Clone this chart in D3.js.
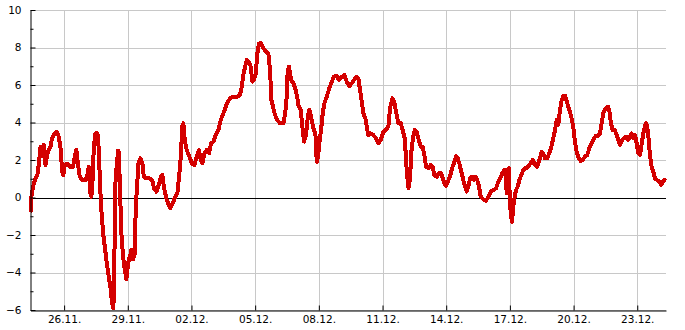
<!DOCTYPE html>
<html lang="en">
<head>
<meta charset="UTF-8">
<title>Temperature</title>
<script src="https://d3js.org/d3.v7.min.js"></script>
<style>
    body { margin: 0; background: #fff; }
    svg { display: block; }
    .axis text { font-family: "DejaVu Sans", sans-serif; font-size: 10.5px; fill: #000; }
    .axis path, .axis line { stroke: #000; }
    .grid line { stroke: #c8c8c8; stroke-width: 1; }
</style>
</head>
<body>
<svg id="chart" width="685" height="330"></svg>
<script>
// time range of the x axis
const xStart = "11-24 10:00";
const xEnd = "12-24 08:30";

// labelled date ticks
const xTicks = ["11-26 00:00", "11-29 00:00", "12-02 00:00", "12-05 00:00", "12-08 00:00",
                "12-11 00:00", "12-14 00:00", "12-17 00:00", "12-20 00:00", "12-23 00:00"];

const yTicks = [-6, -4, -2, 0, 2, 4, 6, 8, 10];
const yMinorTicks = [-5, -3, -1, 1, 3, 5, 7, 9];

// readings: [time, value]
const readings = [
    ["11-24 10:00", -0.8], ["11-24 11:00", 0.05], ["11-24 13:00", 0.58], ["11-24 14:55", 0.93], ["11-24 17:50", 1.2],
    ["11-24 19:45", 1.9], ["11-24 21:15", 2.7], ["11-24 23:10", 2.2],
    ["11-25 01:05", 2.8], ["11-25 02:50", 1.73], ["11-25 04:45", 2.27], ["11-25 06:40", 2.53], ["11-25 08:30", 2.7],
    ["11-25 10:25", 3.16], ["11-25 13:30", 3.42], ["11-25 15:45", 3.5], ["11-25 18:00", 3.24], ["11-25 20:15", 2.53],
    ["11-25 21:45", 1.38], ["11-25 23:10", 1.2],
    ["11-26 00:45", 1.73], ["11-26 03:45", 1.8], ["11-26 06:25", 1.64], ["11-26 10:10", 1.64], ["11-26 12:05", 2.18],
    ["11-26 13:55", 2.53], ["11-26 15:50", 1.73], ["11-26 17:45", 1.1], ["11-26 20:20", 0.93],
    ["11-27 00:05", 0.93], ["11-27 02:20", 1.2], ["11-27 03:55", 1.64], ["11-27 05:25", 0.24], ["11-27 06:50", 0.04],
    ["11-27 08:00", 0.75], ["11-27 09:35", 2.7], ["11-27 11:25", 3.42], ["11-27 13:40", 3.42], ["11-27 15:15", 2.53],
    ["11-27 16:40", 0.58], ["11-27 18:10", -0.67], ["11-27 20:05", -1.91], ["11-27 22:00", -2.62],
    ["11-28 00:15", -3.5], ["11-28 02:30", -4.22], ["11-28 04:45", -4.93], ["11-28 06:15", -5.64], ["11-28 07:45", -5.9],
    ["11-28 08:50", -3.33], ["11-28 10:00", 0.76], ["11-28 11:05", 1.47], ["11-28 13:00", 2.5], ["11-28 13:50", 2.4],
    ["11-28 16:45", -1.9], ["11-28 18:40", -3.16], ["11-28 20:35", -3.87], ["11-28 22:25", -4.35],
    ["11-29 00:20", -3.5], ["11-29 02:15", -3.16], ["11-29 04:05", -2.8], ["11-29 06:00", -3.3], ["11-29 07:55", -3.0],
    ["11-29 09:00", -0.49], ["11-29 10:30", 0.58], ["11-29 12:00", 1.82], ["11-29 14:15", 2.09], ["11-29 16:30", 1.82],
    ["11-29 18:05", 1.11], ["11-29 21:00", 1.02],
    ["11-30 00:50", 1.02], ["11-30 03:30", 0.93], ["11-30 05:45", 0.49], ["11-30 08:20", 0.31], ["11-30 11:00", 0.67],
    ["11-30 13:20", 1.11], ["11-30 15:05", 1.2], ["11-30 17:00", 0.5], ["11-30 20:05", -0.13], ["11-30 23:50", -0.58],
    ["12-01 02:50", -0.31], ["12-01 05:30", 0.04], ["12-01 08:05", 0.22], ["12-01 10:20", 1.29], ["12-01 12:15", 2.36],
    ["12-01 13:25", 3.78], ["12-01 14:50", 3.96], ["12-01 16:25", 3.07], ["12-01 18:40", 2.53], ["12-01 21:40", 2.18],
    ["12-02 00:20", 1.82], ["12-02 03:15", 1.73], ["12-02 06:00", 2.18], ["12-02 08:35", 2.53], ["12-02 10:30", 2.0],
    ["12-02 12:20", 1.82], ["12-02 14:35", 2.36], ["12-02 17:15", 2.53], ["12-02 19:55", 2.36], ["12-02 22:10", 2.89],
    ["12-03 00:45", 2.98], ["12-03 03:30", 3.33], ["12-03 06:25", 3.6], ["12-03 09:05", 4.13], ["12-03 12:05", 4.49],
    ["12-03 14:45", 4.84], ["12-03 17:00", 5.11], ["12-03 19:40", 5.29], ["12-03 23:20", 5.38],
    ["12-04 03:55", 5.38], ["12-04 06:55", 5.47], ["12-04 08:50", 5.91], ["12-04 10:40", 6.53], ["12-04 12:35", 6.98],
    ["12-04 14:30", 7.33], ["12-04 16:45", 7.24], ["12-04 19:00", 6.98], ["12-04 20:50", 6.18], ["12-04 22:45", 6.27],
    ["12-05 00:40", 6.62], ["12-05 02:30", 7.69], ["12-05 04:25", 8.22], ["12-05 06:40", 8.22], ["12-05 09:15", 7.96],
    ["12-05 12:20", 7.78], ["12-05 14:55", 7.69], ["12-05 16:50", 6.8], ["12-05 18:20", 5.2], ["12-05 20:35", 4.76],
    ["12-05 22:30", 4.4],
    ["12-06 01:05", 4.13], ["12-06 04:10", 3.96], ["12-06 07:55", 3.96], ["12-06 09:50", 4.49], ["12-06 11:15", 5.02],
    ["12-06 12:50", 6.8], ["12-06 14:20", 6.98], ["12-06 16:35", 6.27], ["12-06 19:10", 6.09], ["12-06 21:55", 5.73],
    ["12-07 00:10", 5.2], ["12-07 00:50", 4.93], ["12-07 03:35", 4.67], ["12-07 05:20", 3.78], ["12-07 07:15", 2.98],
    ["12-07 09:30", 3.3], ["12-07 11:30", 4.31], ["12-07 13:15", 4.67], ["12-07 15:10", 4.31], ["12-07 17:45", 3.69],
    ["12-07 20:05", 3.42], ["12-07 21:40", 1.9], ["12-07 23:05", 2.2],
    ["12-08 00:35", 2.9], ["12-08 02:30", 3.6], ["12-08 04:25", 4.49], ["12-08 06:15", 5.02], ["12-08 08:55", 5.38],
    ["12-08 11:50", 5.82], ["12-08 14:35", 6.18], ["12-08 17:10", 6.44], ["12-08 20:15", 6.49], ["12-08 22:50", 6.27],
    ["12-09 01:55", 6.44], ["12-09 04:50", 6.53], ["12-09 07:30", 6.18], ["12-09 10:30", 5.95], ["12-09 13:10", 6.09],
    ["12-09 15:50", 6.27], ["12-09 18:05", 6.44], ["12-09 20:40", 6.36], ["12-09 22:35", 5.73],
    ["12-10 00:30", 5.11], ["12-10 02:20", 4.49], ["12-10 04:35", 4.22], ["12-10 06:10", 3.78], ["12-10 07:55", 3.33],
    ["12-10 10:40", 3.42], ["12-10 13:35", 3.33], ["12-10 16:40", 3.16], ["12-10 19:15", 2.89], ["12-10 22:00", 3.07],
    ["12-11 00:55", 3.51], ["12-11 03:35", 3.6], ["12-11 06:35", 3.78], ["12-11 08:30", 4.76], ["12-11 11:05", 5.29],
    ["12-11 13:20", 5.11], ["12-11 15:15", 4.58], ["12-11 17:50", 3.96], ["12-11 20:35", 3.96], ["12-11 22:50", 3.6],
    ["12-12 01:05", 3.16], ["12-12 02:00", 2.5], ["12-12 03:40", 1.2], ["12-12 05:25", 0.5], ["12-12 07:05", 1.0],
    ["12-12 08:45", 2.5], ["12-12 10:30", 3.2], ["12-12 12:25", 3.6], ["12-12 14:40", 3.51], ["12-12 16:55", 3.07],
    ["12-12 19:10", 2.71], ["12-12 21:25", 2.71], ["12-12 23:15", 2.27],
    ["12-13 01:10", 1.64], ["12-13 03:45", 1.56], ["12-13 06:30", 1.73], ["12-13 08:45", 1.64], ["12-13 10:35", 1.2],
    ["12-13 13:15", 1.11], ["12-13 15:30", 1.29], ["12-13 17:45", 1.33], ["12-13 19:35", 1.11], ["12-13 21:50", 0.76],
    ["12-13 23:45", 0.61],
    ["12-14 01:45", 0.84], ["12-14 04:20", 1.11], ["12-14 06:35", 1.56], ["12-14 08:50", 1.82], ["12-14 11:05", 2.21],
    ["12-14 13:00", 2.09], ["12-14 14:50", 1.82], ["12-14 17:30", 1.29], ["12-14 19:20", 0.93], ["12-14 21:15", 0.58],
    ["12-14 23:10", 0.31],
    ["12-15 01:00", 0.58], ["12-15 02:55", 1.02], ["12-15 05:10", 1.11], ["12-15 07:25", 0.93], ["12-15 09:20", 1.11],
    ["12-15 11:10", 0.93], ["12-15 13:05", 0.58], ["12-15 15:00", 0.04], ["12-15 17:55", -0.1], ["12-15 21:00", -0.18],
    ["12-15 23:35", 0.04],
    ["12-16 02:20", 0.31], ["12-16 05:15", 0.4], ["12-16 08:20", 0.49], ["12-16 10:55", 0.84], ["12-16 12:50", 1.02],
    ["12-16 15:25", 1.29], ["12-16 17:40", 1.47], ["12-16 19:15", 1.11], ["12-16 20:25", 0.22], ["12-16 21:30", 1.47],
    ["12-16 22:40", 1.56], ["12-16 23:45", 0.22],
    ["12-17 00:55", -0.84], ["12-17 02:25", -1.29], ["12-17 03:50", -0.49], ["12-17 05:25", 0.04], ["12-17 06:55", 0.4],
    ["12-17 08:50", 0.58], ["12-17 10:40", 0.93], ["12-17 12:55", 1.2], ["12-17 15:10", 1.47], ["12-17 17:25", 1.56],
    ["12-17 19:40", 1.6], ["12-17 21:55", 1.73],
    ["12-18 01:45", 2.0], ["12-18 04:20", 1.73], ["12-18 07:00", 1.64], ["12-18 09:15", 2.0], ["12-18 12:00", 2.44],
    ["12-18 13:45", 2.36], ["12-18 15:40", 2.09], ["12-18 18:15", 2.09], ["12-18 20:30", 2.36], ["12-18 22:50", 2.71],
    ["12-19 01:05", 3.16], ["12-19 03:00", 3.6], ["12-19 04:55", 4.13], ["12-19 06:45", 3.87], ["12-19 08:40", 4.67],
    ["12-19 10:35", 5.2], ["12-19 12:20", 5.41], ["12-19 14:40", 5.41], ["12-19 16:55", 5.02], ["12-19 19:10", 4.67],
    ["12-19 21:25", 4.31], ["12-19 23:40", 3.78],
    ["12-20 01:35", 2.98], ["12-20 03:30", 2.44], ["12-20 05:45", 2.09], ["12-20 08:00", 1.95], ["12-20 10:20", 2.0],
    ["12-20 12:55", 2.18], ["12-20 15:30", 2.27], ["12-20 17:45", 2.62], ["12-20 20:30", 2.89], ["12-20 23:05", 3.16],
    ["12-21 01:20", 3.29], ["12-21 03:55", 3.29], ["12-21 05:50", 3.42], ["12-21 07:45", 3.96], ["12-21 09:35", 4.49],
    ["12-21 12:20", 4.76], ["12-21 14:55", 4.84], ["12-21 16:20", 4.67], ["12-21 18:15", 3.96], ["12-21 20:15", 3.6],
    ["12-21 22:30", 3.6],
    ["12-22 00:45", 3.33], ["12-22 02:30", 3.07], ["12-22 04:25", 2.8], ["12-22 06:45", 3.07], ["12-22 09:00", 3.16],
    ["12-22 11:15", 3.24], ["12-22 13:30", 3.07], ["12-22 15:45", 3.24], ["12-22 17:40", 3.42], ["12-22 19:30", 3.16],
    ["12-22 21:25", 3.33], ["12-22 23:20", 2.89],
    ["12-23 01:10", 2.36], ["12-23 03:05", 2.27], ["12-23 05:20", 2.98], ["12-23 07:35", 3.6], ["12-23 09:50", 3.96],
    ["12-23 11:20", 3.78], ["12-23 12:55", 3.07], ["12-23 14:20", 2.27], ["12-23 16:15", 1.64], ["12-23 18:05", 1.38],
    ["12-23 20:00", 1.02], ["12-23 22:35", 0.93],
    ["12-24 00:55", 0.84], ["12-24 03:10", 0.67], ["12-24 04:45", 0.84], ["12-24 07:00", 0.93], ["12-24 08:30", 0.89]
];

const parseTime = d3.timeParse("%Y-%m-%d %H:%M");
const toDate = s => parseTime("2023-" + s);

const margin = { top: 10, right: 19, bottom: 20, left: 30.5 };
const width = 685, height = 330;

const svg = d3.select("#chart");

const x = d3.scaleTime()
    .domain([toDate(xStart), toDate(xEnd)])
    .range([margin.left, width - margin.right]);

const y = d3.scaleLinear()
    .domain([-6, 10])
    .range([height - margin.bottom, margin.top]);

const tickDates = xTicks.map(toDate);

// grid
const grid = svg.append("g").attr("class", "grid");
grid.selectAll(".h").data(yTicks).enter().append("line")
    .attr("x1", margin.left).attr("x2", width - margin.right)
    .attr("y1", d => Math.round(y(d)) + 0.5).attr("y2", d => Math.round(y(d)) + 0.5);
grid.selectAll(".v").data(tickDates).enter().append("line")
    .attr("x1", d => Math.round(x(d)) + 0.5).attr("x2", d => Math.round(x(d)) + 0.5)
    .attr("y1", margin.top).attr("y2", height - margin.bottom);

// zero line
svg.append("line")
    .attr("x1", margin.left).attr("x2", width - margin.right)
    .attr("y1", Math.round(y(0)) + 0.5).attr("y2", Math.round(y(0)) + 0.5)
    .attr("stroke", "#000");

// the series
const line = d3.line()
    .x(d => x(toDate(d[0])))
    .y(d => y(d[1]));

svg.append("path")
    .datum(readings)
    .attr("fill", "none")
    .attr("stroke", "#d40000")
    .attr("stroke-width", 4)
    .attr("stroke-linejoin", "round")
    .attr("shape-rendering", "crispEdges")
    .attr("d", line);

// axes
svg.append("g")
    .attr("class", "axis")
    .attr("transform", `translate(0,${height - margin.bottom + 0.5})`)
    .call(d3.axisBottom(x)
        .tickValues(tickDates)
        .tickSize(-5)
        .tickSizeOuter(0)
        .tickPadding(5)
        .tickFormat(d3.timeFormat("%d.%m.")));

svg.append("g")
    .attr("class", "axis")
    .attr("transform", `translate(${margin.left},0)`)
    .call(d3.axisLeft(y)
        .tickValues(yTicks)
        .tickSize(-5)
        .tickSizeOuter(0)
        .tickPadding(9));

svg.append("g")
    .attr("class", "axis")
    .attr("transform", `translate(${margin.left},0)`)
    .call(d3.axisLeft(y)
        .tickValues(yMinorTicks)
        .tickSize(-3)
        .tickSizeOuter(0)
        .tickFormat(""))
    .select(".domain").remove();
</script>
</body>
</html>
